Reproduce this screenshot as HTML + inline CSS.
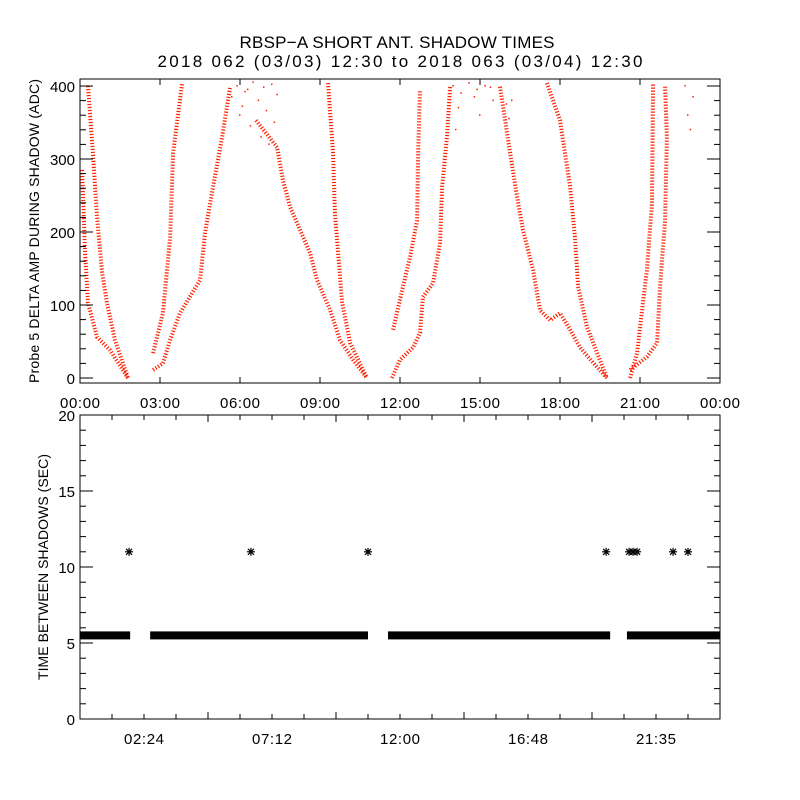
<!DOCTYPE html>
<html><head><meta charset="utf-8"><style>
html,body{margin:0;padding:0;background:#fff;}
svg{display:block;font-family:"Liberation Sans",sans-serif;}
</style></head><body>
<svg id="c" width="800" height="800" viewBox="0 0 800 800">
<rect width="800" height="800" fill="#fff"/>
<text x="397" y="48" font-size="17" text-anchor="middle" textLength="315">RBSP−A SHORT ANT. SHADOW TIMES</text>
<text x="400" y="67" font-size="17" text-anchor="middle" textLength="485">2018 062 (03/03) 12:30 to 2018 063 (03/04) 12:30</text>
<text transform="translate(39,231) rotate(-90)" font-size="14" text-anchor="middle" textLength="304">Probe 5 DELTA AMP DURING SHADOW (ADC)</text>
<text transform="translate(48,567) rotate(-90)" font-size="14" text-anchor="middle" textLength="226">TIME BETWEEN SHADOWS (SEC)</text>
<g id="topPanel"></g>
<g id="botPanel"></g>
</svg>
<script>
// ---- top panel data: tracks of [hour, ADC value]
const trackA=[[0.3,400],[0.49,305],[0.64,220],[0.83,144],[1.01,103],[1.31,52],[1.8,0]];
const trackB=[[0.08,285],[0.19,171],[0.3,103],[0.64,56],[1.13,38],[1.8,0]];
const trackC=[[2.74,34],[3.11,89],[3.38,193],[3.49,308],[3.83,404]];
const trackD=[[2.74,11],[3.11,20],[3.38,52],[3.75,89],[4.2,116],[4.5,134],[4.69,199],[4.99,262],[5.33,330],[5.63,399]];
const trackE=[[6.6,353],[7.39,316],[7.61,271],[7.88,234],[8.25,203],[8.63,171],[8.89,134],[9.38,93],[9.75,52],[10.24,25],[10.76,0]];
const trackF=[[9.3,404],[9.49,308],[9.56,226],[9.68,171],[9.83,103],[10.13,48],[10.76,0]];
const trackG=[[11.74,66],[12.11,125],[12.38,166],[12.64,216],[12.68,308],[12.75,395]];
const trackH=[[11.7,0],[12.0,25],[12.49,42],[12.75,62],[12.86,111],[13.24,130],[13.5,185],[13.58,262],[13.76,330],[13.88,399]];
const trackI=[[15.75,399],[16.13,308],[16.39,248],[16.61,203],[16.99,148],[17.25,93],[17.63,79],[18.0,89],[18.38,66],[18.75,42],[19.24,21],[19.76,0]];
const trackJ=[[17.51,404],[18.0,353],[18.38,262],[18.56,193],[18.68,125],[19.01,70],[19.76,0]];
const trackK=[[20.63,0],[20.89,34],[21.11,103],[21.26,148],[21.45,240],[21.49,404]];
const trackL=[[20.63,11],[21.26,29],[21.64,48],[21.75,125],[21.94,216],[22.01,330],[21.94,399]];
const tracks=[trackA,trackB,trackC,trackD,trackE,trackF,trackG,trackH,trackI,trackJ,trackK,trackL];
const sparseH=[5.7,5.9,6.1,6.3,6.5,6.7,6.9,7.0,7.2,7.4,6.0,6.4,6.8,7.1,7.3,6.2,14.0,14.3,14.6,14.9,15.2,15.5,14.2,14.8,15.0,15.4,16.0,16.2,22.7,22.8,22.9,23.0,14.1,16.1];
const sparseV=[385,400,372,395,405,380,398,366,402,388,360,345,330,320,350,392,400,390,404,395,400,380,370,385,360,398,375,380,400,360,340,385,340,355];
const topYTicks=[0,100,200,300,400];
const topXLabels=["00:00","03:00","06:00","09:00","12:00","15:00","18:00","21:00","00:00"];
// ---- bottom panel data
const bandStart=[0,2.63,11.55,20.51];
const bandEnd=[1.88,10.8,19.88,24];
const bandValue=5.5;
const spikeHours=[1.84,6.41,10.8,19.73,20.59,20.74,20.89,22.24,22.8];
const spikeValues=[11,11,11,11,11,11,11,11,11];
const botYTicks=[0,5,10,15,20];
const botXLabels=["02:24","07:12","12:00","16:48","21:35"];

const NS="http://www.w3.org/2000/svg";
function mk(p,t,a){const e=document.createElementNS(NS,t);for(const k in a)e.setAttribute(k,a[k]);p.appendChild(e);return e;}
const X0=80,X1=720;
const xh=h=>X0+(X1-X0)*h/24;
const yTop=v=>378-0.73*v;
const yBot=v=>719-(719-415)*v/20;

const gTop=document.getElementById('topPanel');
tracks.forEach((tr,i)=>{
  const pl=mk(gTop,'polyline',{points:tr.map(p=>xh(p[0])+','+yTop(p[1])).join(' '),fill:'none',stroke:'#ff2000','stroke-width':4,'stroke-dasharray':'1.2 1.8'});
  
  
});
sparseH.forEach((h,i)=>{
  const r=mk(gTop,'rect',{x:xh(h)-1,y:yTop(sparseV[i])-1,width:1.5,height:1.5,fill:'#ff2000'});
  
  
});
const f1=mk(gTop,'rect',{x:80,y:79,width:640,height:304,fill:'none',stroke:'#000','stroke-width':1});


for(let v=0;v<=400;v+=20){
  const y=yTop(v),L=(v%100===0)?13:6;
  mk(gTop,'line',{x1:80,y1:y,x2:80+L,y2:y,stroke:'#000'});
  mk(gTop,'line',{x1:720,y1:y,x2:720-L,y2:y,stroke:'#000'});
}
topYTicks.forEach(v=>{
  const t=mk(gTop,'text',{x:75,y:yTop(v)+6,'font-size':15,'text-anchor':'end'});t.textContent=v;
  
  
});
topXLabels.forEach((s,i)=>{
  const x=xh(i*3);
  if(i>0&&i<8){mk(gTop,'line',{x1:x,y1:383,x2:x,y2:377,stroke:'#000'});mk(gTop,'line',{x1:x,y1:79,x2:x,y2:85,stroke:'#000'});}
  const t=mk(gTop,'text',{x:x,y:408,'font-size':15,'text-anchor':'middle',textLength:40});t.textContent=s;
  
  
});

const gBot=document.getElementById('botPanel');
bandStart.forEach((s,i)=>{
  const r=mk(gBot,'rect',{x:xh(s),y:yBot(bandValue)-4,width:xh(bandEnd[i])-xh(s),height:8,fill:'#000'});
  
  
});
spikeHours.forEach((h,i)=>{
  const cx=xh(h),cy=yBot(spikeValues[i]);
  const g=mk(gBot,'g',{stroke:'#000','stroke-width':1.2});
  
  
  mk(g,'line',{x1:cx-4,y1:cy,x2:cx+4,y2:cy});
  mk(g,'line',{x1:cx,y1:cy-4,x2:cx,y2:cy+4});
  mk(g,'line',{x1:cx-3,y1:cy-3,x2:cx+3,y2:cy+3});
  mk(g,'line',{x1:cx-3,y1:cy+3,x2:cx+3,y2:cy-3});
});
const f2=mk(gBot,'rect',{x:80,y:415,width:640,height:304,fill:'none',stroke:'#000','stroke-width':1});


for(let v=0;v<=20;v++){
  const y=yBot(v),L=(v%5===0)?13:6;
  mk(gBot,'line',{x1:80,y1:y,x2:80+L,y2:y,stroke:'#000'});
  mk(gBot,'line',{x1:720,y1:y,x2:720-L,y2:y,stroke:'#000'});
}
for(let k=1;k<20;k++){
  const x=X0+32*k,L=(k%4===0)?7:5;
  mk(gBot,'line',{x1:x,y1:719,x2:x,y2:719-L,stroke:'#000'});
  mk(gBot,'line',{x1:x,y1:415,x2:x,y2:415+L,stroke:'#000'});
}
botYTicks.forEach(v=>{
  const t=mk(gBot,'text',{x:75,y:yBot(v)+6,'font-size':15,'text-anchor':'end'});t.textContent=v;
  
  
});
botXLabels.forEach((s,i)=>{
  const t=mk(gBot,'text',{x:xh(4.8*(i+0.5)),y:744,'font-size':15,'text-anchor':'middle',textLength:40});t.textContent=s;
  
  
});
</script>
</body></html>
